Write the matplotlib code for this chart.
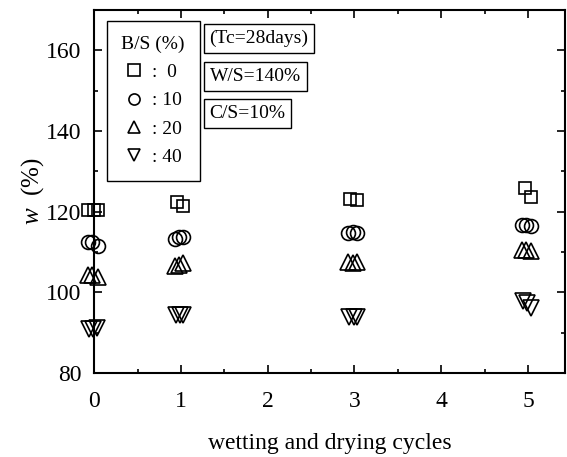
import matplotlib
matplotlib.use("Agg")
import matplotlib.pyplot as plt
from matplotlib.lines import Line2D
from matplotlib.ticker import MultipleLocator

plt.rcParams['font.family'] = ['Liberation Serif', 'DejaVu Serif']
plt.rcParams['mathtext.fontset'] = 'custom'
plt.rcParams['mathtext.it'] = 'Liberation Serif:italic'

# B/S = 0 %
sq_x = [-0.07, 0.0, 0.04, 0.95, 1.02, 2.95, 3.03, 4.96, 5.03]
sq_y = [120.5, 120.5, 120.5, 122.3, 121.5, 123.2, 123.0, 125.8, 123.6]
# B/S = 10 %
ci_x = [-0.07, -0.02, 0.04, 0.93, 0.98, 1.03, 2.93, 2.98, 3.03, 4.93, 4.98, 5.03]
ci_y = [112.4, 112.4, 111.6, 113.2, 113.6, 113.8, 114.8, 115.0, 114.6, 116.6, 116.6, 116.4]
# B/S = 20 %
tr_x = [-0.07, -0.02, 0.04, 0.93, 0.98, 1.03, 2.93, 2.98, 3.03, 4.93, 4.98, 5.03]
tr_y = [104.2, 104.2, 103.8, 106.6, 106.8, 107.2, 107.4, 107.2, 107.6, 110.4, 110.6, 110.2]
# B/S = 40 %
dn_x = [-0.06, -0.01, 0.03, 0.94, 0.99, 1.03, 2.94, 2.99, 3.03, 4.94, 4.99, 5.03]
dn_y = [91.0, 91.0, 91.2, 94.4, 94.4, 94.4, 93.9, 93.8, 93.9, 97.8, 97.4, 96.2]

labels = [':  0', ': 10', ': 20', ': 40']
notes = ['(Tc=28days)', 'W/S=140%', 'C/S=10%']

fig = plt.figure(figsize=(5.67, 4.57), dpi=100)
ax = fig.add_axes([0.166, 0.184, 0.831, 0.794])

style = dict(linestyle='none', markerfacecolor='none', markeredgecolor='black', markeredgewidth=1.2)
ax.plot(sq_x, sq_y, marker='s', markersize=9, clip_on=False, **style)
ax.plot(ci_x, ci_y, marker='o', markersize=10, clip_on=False, **style)
ax.plot(tr_x, tr_y, marker='^', markersize=11, clip_on=False, **style)
ax.plot(dn_x, dn_y, marker='v', markersize=11, clip_on=False, **style)

ax.set_xlim(0, 5.43)
ax.set_ylim(80, 170)
ax.xaxis.set_major_locator(MultipleLocator(1))
ax.xaxis.set_minor_locator(MultipleLocator(0.5))
ax.yaxis.set_major_locator(MultipleLocator(20))
ax.yaxis.set_minor_locator(MultipleLocator(10))
ax.tick_params(which='both', direction='in', top=True, right=True, labelsize=17, width=1.2)
ax.tick_params(which='major', length=6)
ax.tick_params(which='minor', length=3)
ax.tick_params(axis='x', pad=13)
ax.tick_params(axis='y', pad=9)
for s in ax.spines.values():
    s.set_linewidth(1.5)

ax.set_xlabel('wetting and drying cycles', fontsize=17, labelpad=15)
ax.set_ylabel(r'$w$  (%)', fontsize=18, labelpad=0)

handles = [Line2D([], [], marker=m, markersize=ms, **style) for m, ms in
           [('s', 8), ('o', 8), ('^', 9), ('v', 9)]]
leg = ax.legend(handles, labels, title='B/S (%)', loc='upper left',
                bbox_to_anchor=(0.027, 0.97), borderaxespad=0, fontsize=14, title_fontsize=14,
                frameon=True, fancybox=False, edgecolor='black', framealpha=1,
                handlelength=1.0, handletextpad=0.4, labelspacing=0.55, borderpad=0.75)
leg.get_frame().set_linewidth(1.0)

ypos = [0.922, 0.817, 0.715]
for t, yy in zip(notes, ypos):
    ax.text(0.245, yy, t, transform=ax.transAxes, fontsize=14, va='center', ha='left',
            bbox=dict(boxstyle='square,pad=0.3', facecolor='white', edgecolor='black', linewidth=1.0))

fig.savefig('out.png', dpi=100)
